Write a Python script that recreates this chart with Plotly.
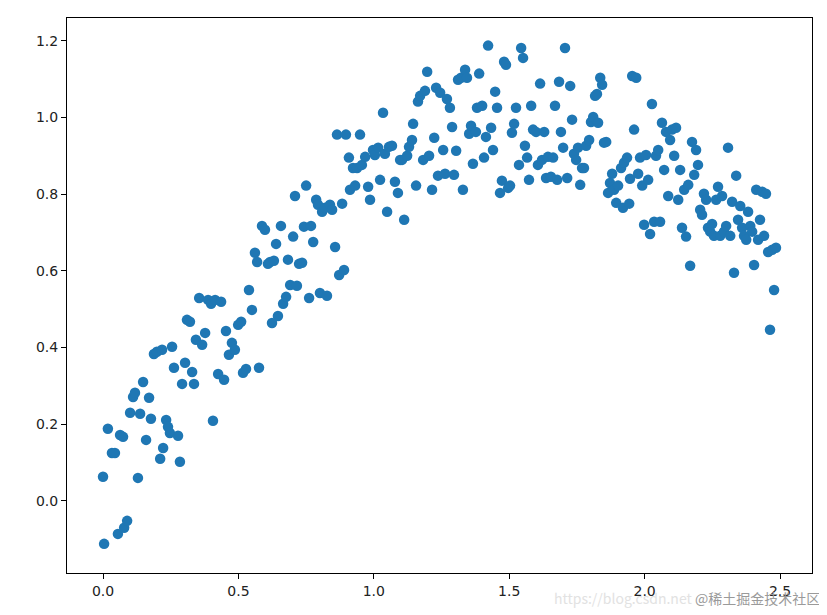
import plotly.graph_objects as go

x_vals = [0.000,0.004,0.018,0.033,0.044,0.055,0.063,0.074,0.078,0.089,0.100,0.111,0.118,0.129,0.137,0.148,0.159,0.170,0.177,0.188,
0.199,0.211,0.218,0.222,0.233,0.240,0.247,0.255,0.262,0.277,0.284,0.292,0.303,0.310,0.321,0.329,0.336,0.343,0.355,0.366,
0.377,0.388,0.399,0.406,0.414,0.425,0.436,0.447,0.454,0.465,0.476,0.487,0.499,0.510,0.517,0.528,0.539,0.550,0.561,0.569,
0.576,0.587,0.598,0.609,0.617,0.624,0.631,0.639,0.646,0.657,0.665,0.676,0.683,0.691,0.702,0.709,0.716,0.724,0.735,0.742,
0.750,0.761,0.768,0.776,0.787,0.794,0.801,0.809,0.820,0.827,0.838,0.846,0.857,0.864,0.872,0.883,0.890,0.897,0.908,0.912,
0.923,0.931,0.938,0.949,0.956,0.968,0.979,0.986,0.997,1.004,1.016,1.023,1.034,1.041,1.049,1.056,1.067,1.078,1.089,1.097,
1.104,1.112,1.123,1.130,1.141,1.145,1.156,1.163,1.171,1.182,1.189,1.197,1.204,1.215,1.223,1.230,1.237,1.245,1.256,1.263,
1.270,1.281,1.289,1.296,1.304,1.311,1.322,1.329,1.337,1.344,1.352,1.359,1.366,1.377,1.381,1.389,1.400,1.407,1.414,1.422,
1.433,1.440,1.448,1.455,1.466,1.473,1.481,1.488,1.496,1.503,1.510,1.518,1.525,1.536,1.544,1.551,1.558,1.566,1.573,1.581,
1.588,1.599,1.606,1.614,1.621,1.629,1.636,1.643,1.654,1.662,1.669,1.677,1.684,1.691,1.699,1.706,1.714,1.725,1.732,1.739,
1.747,1.754,1.762,1.769,1.776,1.784,1.795,1.802,1.810,1.817,1.824,1.828,1.836,1.843,1.850,1.858,1.865,1.872,1.880,1.887,
1.895,1.902,1.913,1.920,1.924,1.935,1.943,1.946,1.954,1.961,1.969,1.976,1.983,1.991,1.998,2.005,2.013,2.020,2.027,2.035,
2.042,2.050,2.057,2.064,2.072,2.079,2.087,2.094,2.101,2.109,2.116,2.124,2.131,2.138,2.146,2.153,2.161,2.168,2.175,2.183,
2.190,2.197,2.205,2.212,2.219,2.227,2.234,2.242,2.249,2.256,2.264,2.271,2.279,2.286,2.293,2.301,2.308,2.316,2.323,2.330,
2.338,2.345,2.353,2.360,2.367,2.375,2.382,2.390,2.397,2.404,2.412,2.419,2.426,2.434,2.441,2.448,2.456,2.463,2.471,2.478,
2.485]

y_vals = [0.063,-0.112,0.188,0.125,0.125,-0.086,0.172,0.167,-0.070,-0.052,0.230,0.271,0.282,0.060,0.227,0.310,0.159,0.269,0.214,0.383,
0.389,0.110,0.394,0.138,0.211,0.193,0.177,0.402,0.347,0.170,0.102,0.305,0.360,0.472,0.467,0.336,0.305,0.420,0.529,0.407,
0.438,0.524,0.514,0.209,0.524,0.331,0.519,0.316,0.443,0.381,0.412,0.394,0.459,0.467,0.334,0.344,0.550,0.498,0.647,0.623,
0.347,0.717,0.707,0.618,0.623,0.464,0.626,0.670,0.482,0.717,0.514,0.532,0.629,0.563,0.689,0.795,0.561,0.618,0.621,0.715,
0.822,0.529,0.717,0.675,0.785,0.772,0.542,0.754,0.764,0.535,0.772,0.759,0.662,0.955,0.589,0.775,0.602,0.955,0.895,0.811,
0.868,0.822,0.868,0.955,0.876,0.897,0.819,0.785,0.915,0.902,0.921,0.837,1.012,0.905,0.754,0.923,0.926,0.832,0.803,0.889,
0.889,0.733,0.900,0.923,0.941,0.983,0.822,1.041,1.056,0.889,1.069,1.119,0.900,0.811,0.947,1.077,0.848,1.064,0.915,0.853,
1.048,1.025,0.975,0.850,0.913,1.098,1.103,0.811,1.124,1.103,0.957,0.978,0.879,0.962,1.025,1.114,1.030,0.895,0.949,1.187,
0.973,0.915,1.067,1.025,0.803,0.835,1.145,1.137,0.816,0.822,0.960,0.983,1.025,0.876,1.181,1.155,0.926,0.895,0.837,1.030,
0.968,0.962,0.876,1.088,0.889,0.962,0.842,0.897,0.845,0.895,1.030,0.837,1.093,0.962,0.921,1.181,0.842,1.082,0.994,0.905,
0.889,0.921,0.824,0.868,0.868,0.926,0.941,0.988,1.001,1.056,1.061,0.986,1.103,1.085,0.934,0.936,0.803,0.829,0.853,0.811,
0.777,0.822,0.868,0.764,0.882,0.895,0.775,0.840,1.108,0.968,1.103,0.853,0.895,0.822,0.720,0.902,0.837,0.696,1.035,0.728,
0.900,0.915,0.728,0.986,0.863,0.962,0.795,0.941,0.968,0.900,0.973,0.785,0.863,0.712,0.811,0.689,0.824,0.613,0.936,0.850,
0.915,0.876,0.759,0.746,0.801,0.785,0.712,0.702,0.722,0.691,0.785,0.819,0.691,0.795,0.702,0.717,0.921,0.691,0.780,0.595,
0.848,0.733,0.769,0.712,0.691,0.681,0.754,0.717,0.702,0.615,0.811,0.681,0.733,0.806,0.691,0.801,0.649,0.446,0.655,0.550,
0.660]

x_ticks = [0.0, 0.5, 1.0, 1.5, 2.0, 2.5]
x_tick_labels = ["0.0", "0.5", "1.0", "1.5", "2.0", "2.5"]
y_ticks = [0.0, 0.2, 0.4, 0.6, 0.8, 1.0, 1.2]
y_tick_labels = ["0.0", "0.2", "0.4", "0.6", "0.8", "1.0", "1.2"]

fig = go.Figure()
fig.add_trace(go.Scatter(
    x=x_vals, y=y_vals, mode="markers",
    marker=dict(color="#1f77b4", size=10.5, line=dict(width=0)),
    showlegend=False,
))

axis_common = dict(
    showgrid=False, zeroline=False, showline=True, linecolor="black", linewidth=1,
    mirror=True, ticks="outside", ticklen=5, tickcolor="black", tickwidth=1,
    tickfont=dict(family="DejaVu Sans", size=14, color="#222222"),
)

# page body has an 8px margin, so the figure is shrunk by 8px and margins offset
fig.update_layout(
    width=819, height=607,
    margin=dict(l=59, r=15, t=10, b=42),
    paper_bgcolor="white", plot_bgcolor="white",
    xaxis=dict(range=[-0.133, 2.618], tickvals=x_ticks, ticktext=x_tick_labels, **axis_common),
    yaxis=dict(range=[-0.188, 1.259], tickvals=y_ticks, ticktext=y_tick_labels, **axis_common),
)

fig.add_annotation(
    xref="paper", yref="paper", x=1.0134, y=-0.045, xanchor="right", yanchor="middle",
    text="<span style='color:#e2e2e2'>https://blog.csdn.net</span> <span style='color:#9a9a9a'>@稀土掘金技术社区</span>",
    showarrow=False, font=dict(family="Noto Sans CJK SC", size=14),
)

fig.write_html("out.html")
